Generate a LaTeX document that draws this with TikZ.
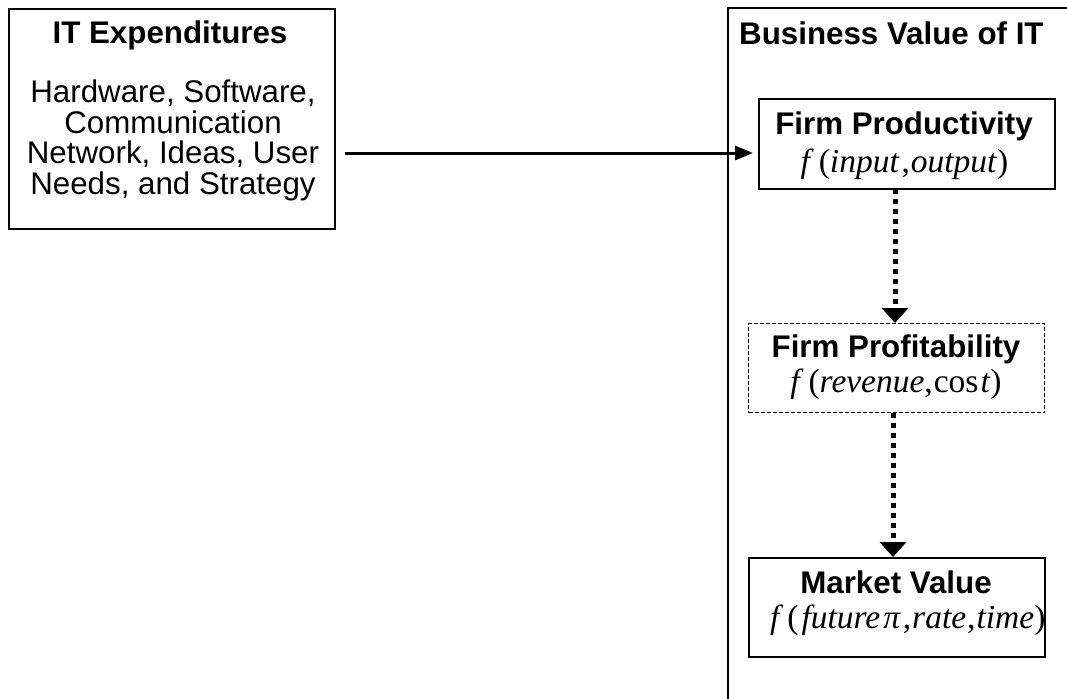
\documentclass[tikz,border=0pt]{standalone}
\usepackage{fontspec}
\setmainfont{Liberation Sans}
\newfontfamily\tms{Liberation Serif}
\usetikzlibrary{arrows.meta}

\begin{document}
\begin{tikzpicture}[x=1pt,y=-1pt,
  every node/.style={inner sep=0pt, font=\fontsize{31.3pt}{31pt}\selectfont},
  box/.style={draw, line width=2pt, anchor=north west},
  dashbox/.style={draw, line width=1pt, dash pattern=on 4pt off 2pt, anchor=north west},
  title/.style={anchor=base, font=\fontsize{31.3pt}{31pt}\selectfont\bfseries},
  body/.style={anchor=base},
  formula/.style={anchor=base, font=\fontsize{33.5pt}{34pt}\selectfont\tms},
  flow/.style={line width=3pt, -{Triangle[length=18pt,width=14pt]}},
  dotflow/.style={line width=5pt, dash pattern=on 5pt off 5pt,
    -{Triangle[length=15pt,width=26pt]}}]
\useasboundingbox (0,0) rectangle (1067,698);

% left panel: what is spent on IT
\node[box, minimum width=326pt, minimum height=220pt] (spend) at (8,8) {};
\node[title] (spendtitle) at (170,44) {IT Expenditures};
\node[body] (l1) at (173,102.5) {Hardware, Software,};
\node[body] (l2) at (173,133.2) {Communication};
\node[body] (l3) at (173,163.9) {Network, Ideas, User};
\node[body] (l4) at (173,194.6) {Needs, and Strategy};

% right panel: the value chain, open towards the page edges
\draw[line width=1.5pt] (1080,8) -- (728,8) -- (728,710);
\node[anchor=base west, font=\fontsize{31.3pt}{31pt}\selectfont\bfseries] (valtitle) at (739,45) {Business Value of IT};

\node[box, minimum width=296pt, minimum height=90pt] (prod) at (758,98) {};
\node[title] (prodtitle) at (904,135) {Firm Productivity};
\node[formula] (prodf) at (904.5,172) {\textit{f}\kern5pt(\textit{input}\kern2pt,\kern1pt\textit{output})};

\node[dashbox, minimum width=296pt, minimum height=89pt] (prof) at (748,323) {};
\node[title] (proftitle) at (896,357) {Firm Profitability};
\node[formula] (proff) at (896,392) {\textit{f}\kern5pt(\textit{revenue},\kern1pt cos\kern2pt\textit{t})};

\node[box, minimum width=296pt, minimum height=99pt] (mkt) at (748,557) {};
\node[title] (mkttitle) at (896,593) {Market Value};
\node[formula, anchor=base west] (mktf) at (770,628) {\textit{f}\kern4pt(\kern3pt\textit{future}\kern3pt\textit{π}\kern2pt,\kern1pt\textit{rate}\kern1pt,\kern1pt\textit{time})};

% connectors
\draw[flow, shorten <=9pt, shorten >=5pt] (spend.east |- 0,153) -- (prod.west |- 0,153);
\draw[dotflow] (895,189) -- (prof.north -| 895,0);
\draw[dotflow] (prof.south -| 893,0) -- (mkt.north -| 893,0);
\end{tikzpicture}
\end{document}
